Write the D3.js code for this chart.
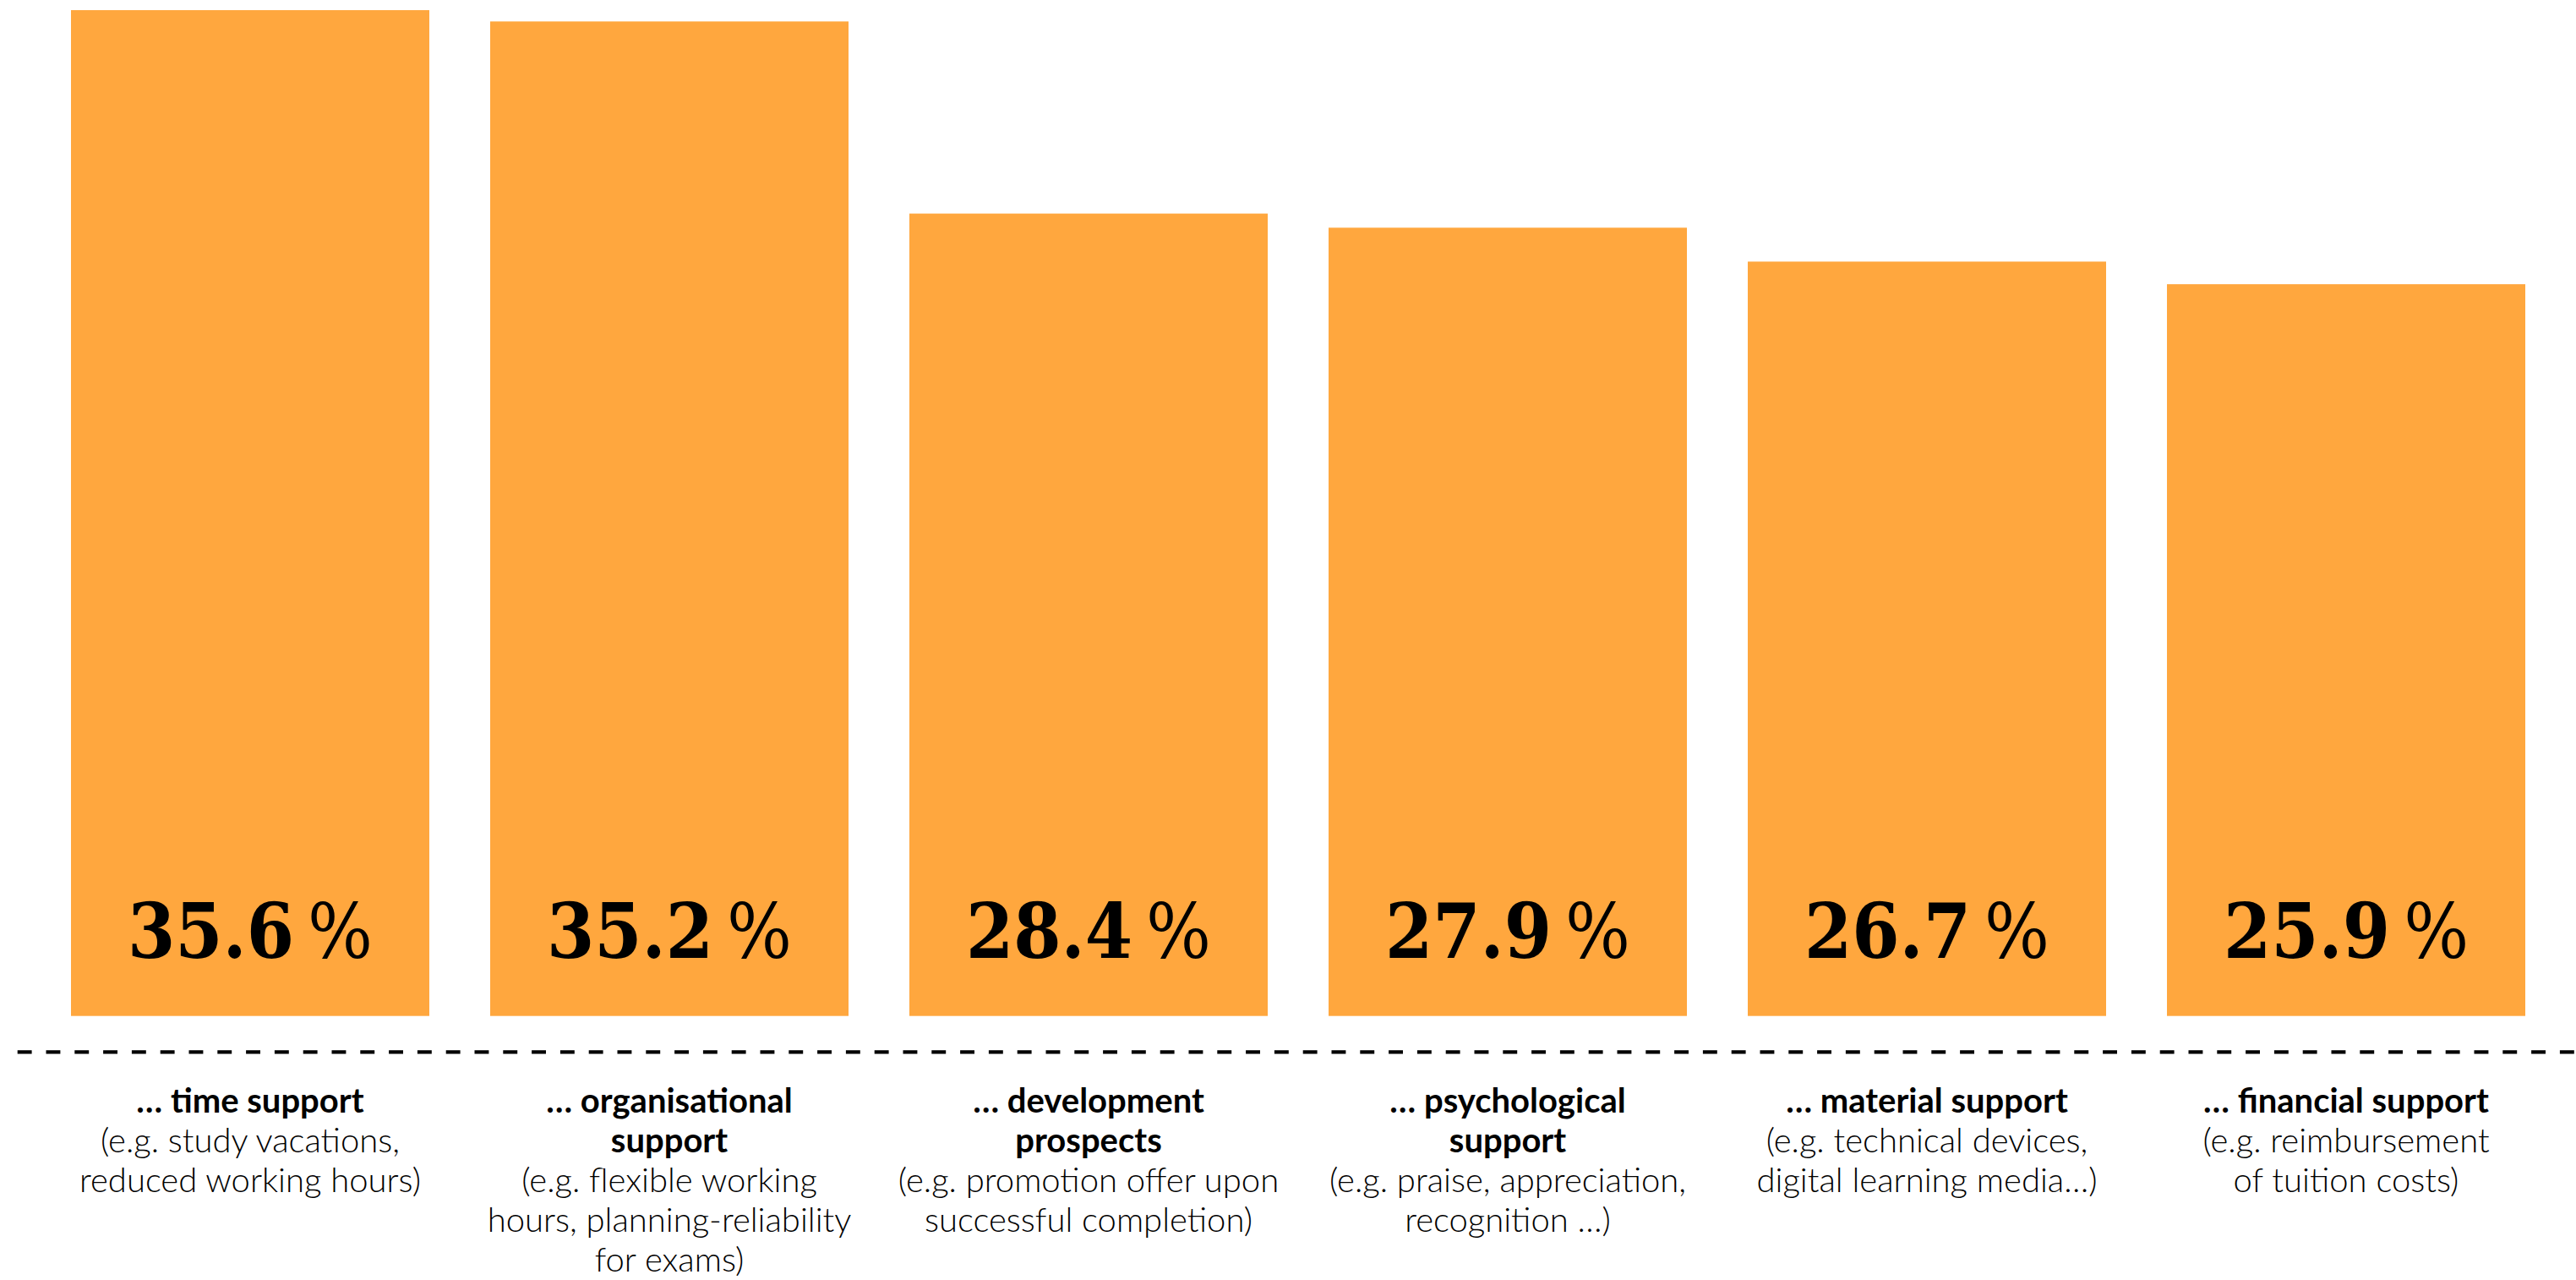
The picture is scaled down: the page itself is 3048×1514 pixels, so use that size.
<!DOCTYPE html>
<html>
<head>
<meta charset="utf-8">
<script src="https://cdn.jsdelivr.net/npm/d3@7/dist/d3.min.js"></script>
<style>
  html, body { margin: 0; padding: 0; background: #ffffff; }
  svg { display: block; }
</style>
</head>
<body>
<svg id="chart" width="3048" height="1514"></svg>
<script>
// Share of respondents naming each kind of employer support
const categories = ["time", "organisational", "development", "psychological", "material", "financial"];
const values = [35.6, 35.2, 28.4, 27.9, 26.7, 25.9];

// Bold heading lines under each bar
const titles = [
  ["… time support"],
  ["… organisational", "support"],
  ["… development", "prospects"],
  ["… psychological", "support"],
  ["… material support"],
  ["… financial support"]
];

// Light example lines below each heading
const examples = [
  ["(e.g. study vacations,", "reduced working hours)"],
  ["(e.g. flexible working", "hours, planning-reliability", "for exams)"],
  ["(e.g. promotion offer upon", "successful completion)"],
  ["(e.g. praise, appreciation,", "recognition …)"],
  ["(e.g. technical devices,", "digital learning media…)"],
  ["(e.g. reimbursement", "of tuition costs)"]
];

const W = 3048, H = 1514;
const baseY = 1201.7;
const barColor = "#FFA73E";

const svg = d3.select("#chart");

const x = d3.scaleBand()
  .domain(categories)
  .range([84, 2988])
  .paddingInner(0.1452)
  .paddingOuter(0);

const y = d3.scaleLinear()
  .domain([0, d3.max(values)])
  .range([baseY, 12]);

const rows = categories.map((c, i) => ({ key: c, value: values[i], title: titles[i], example: examples[i] }));

// Bars
svg.append("g")
  .selectAll("rect")
  .data(rows)
  .join("rect")
  .attr("x", d => x(d.key))
  .attr("y", d => y(d.value))
  .attr("width", x.bandwidth())
  .attr("height", d => y(0) - y(d.value))
  .attr("fill", barColor);

// Value labels near the foot of each bar
const fmt = d3.format(".1f");
const valueLabels = svg.append("g")
  .selectAll("text")
  .data(rows)
  .join("text")
  .attr("x", d => x(d.key) + x.bandwidth() / 2)
  .attr("y", y(0) - 69)
  .attr("text-anchor", "middle")
  .attr("fill", "#000")
  .style("font-family", "'DejaVu Serif', 'Liberation Serif', serif")
  .style("font-stretch", "condensed")
  .style("font-size", "90px");

valueLabels.append("tspan")
  .style("font-weight", 700)
  .text(d => fmt(d.value));
valueLabels.append("tspan")
  .attr("dx", 16)
  .style("font-weight", 400)
  .text("%");

// Dashed baseline below the bars
svg.append("line")
  .attr("x1", 20.7)
  .attr("x2", W)
  .attr("y1", 1244.3)
  .attr("y2", 1244.3)
  .attr("stroke", "#000")
  .attr("stroke-width", 4.3)
  .attr("stroke-dasharray", "16.9,16.9");

// Category captions
const lineStep = 47;
const firstBaseline = 1316;
const captions = svg.append("g")
  .selectAll("text")
  .data(rows)
  .join("text")
  .attr("text-anchor", "middle")
  .attr("fill", "#000")
  .style("font-family", "Lato, 'Open Sans', sans-serif")
  .style("font-size", "40px");

captions.each(function (d) {
  const t = d3.select(this);
  const cx = x(d.key) + x.bandwidth() / 2;
  const lines = d.title.map(s => ({ s, w: 700 })).concat(d.example.map(s => ({ s, w: 300 })));
  lines.forEach((ln, j) => {
    t.append("tspan")
      .attr("x", cx)
      .attr("y", firstBaseline + j * lineStep)
      .style("font-weight", ln.w)
      .text(ln.s);
  });
});
</script>
</body>
</html>
